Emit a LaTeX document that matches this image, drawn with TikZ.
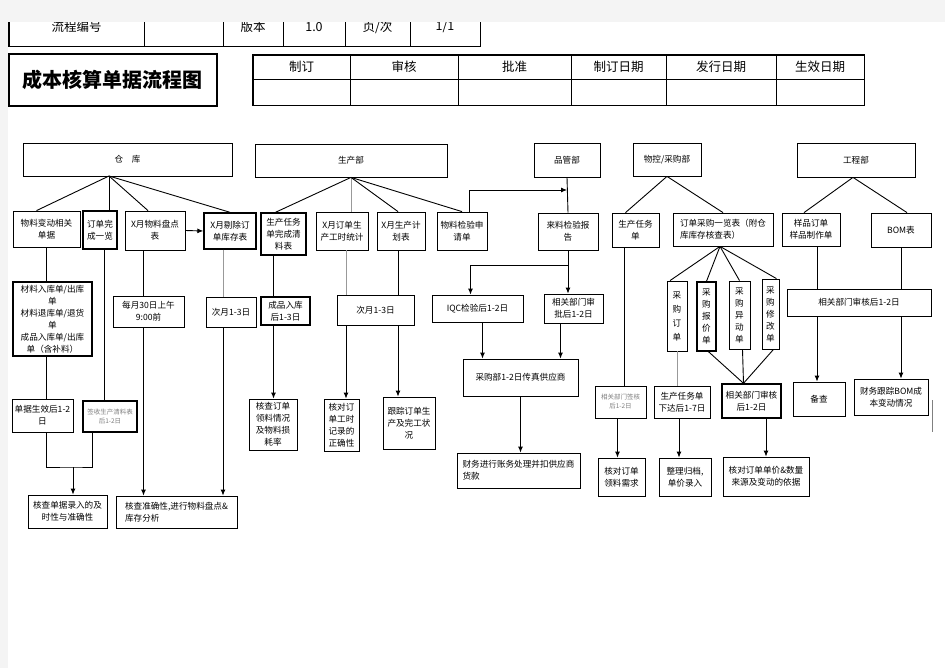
\documentclass[tikz,border=0pt]{standalone}
\usepackage{fontspec}
\setmainfont{Noto Sans CJK SC}
\usetikzlibrary{arrows.meta}
\definecolor{bandgray}{RGB}{244,244,244}

\begin{document}
\begin{tikzpicture}[x=1pt,y=-1pt,
  box/.style={draw,line width=0.8pt,inner sep=1pt,align=center,font=\fontsize{8.6}{12}\selectfont},
  thk/.style={line width=1.4pt},
  cell/.style={draw,line width=0.8pt,inner sep=0pt,font=\fontsize{12.5}{14}\selectfont},
  sm/.style={text=gray,font=\fontsize{6.5}{9}\selectfont},
  ln/.style={line width=0.9pt},
  gl/.style={line width=0.9pt,gray!80},
  arr/.style={line width=0.9pt,-{Latex[length=6pt,width=5pt]}}]
\fill[white] (0,0) rectangle (945,668);
\useasboundingbox (0,0) rectangle (945,668);

\node[cell,minimum width=135,minimum height=38] (t1) at (76.5,27) {流程编号};
\node[cell,minimum width=79,minimum height=38] (t2) at (183.5,27) {};
\node[cell,minimum width=60,minimum height=38] (t3) at (253,27) {版本};
\node[cell,minimum width=62,minimum height=38] (t4) at (314,27) {1.0};
\node[cell,minimum width=65,minimum height=38] (t5) at (377.5,27) {页/次};
\node[cell,minimum width=70,minimum height=38] (t6) at (445,27) {1/1};
\draw[line width=1.6pt] (t1.north west) rectangle (t6.south east);
\fill[bandgray] (0,0) rectangle (945,22);
\fill[bandgray] (0,0) rectangle (8,668);

\node[draw,line width=1.4pt,minimum width=208,minimum height=52,font=\fontsize{20}{22}\selectfont\bfseries] (title) at (113,80) {成本核算单据流程图};

\node[cell,minimum width=97,minimum height=24] (s1) at (301.5,67) {制订};
\node[cell,minimum width=108,minimum height=24] (s2) at (404,67) {审核};
\node[cell,minimum width=113,minimum height=24] (s3) at (514.5,67) {批准};
\node[cell,minimum width=95,minimum height=24] (s4) at (618.5,67) {制订日期};
\node[cell,minimum width=110,minimum height=24] (s5) at (721,67) {发行日期};
\node[cell,minimum width=88,minimum height=24] (s6) at (820,67) {生效日期};
\node[cell,minimum width=97,minimum height=26] (b1) at (301.5,92) {};
\node[cell,minimum width=108,minimum height=26] (b2) at (404,92) {};
\node[cell,minimum width=113,minimum height=26] (b3) at (514.5,92) {};
\node[cell,minimum width=95,minimum height=26] (b4) at (618.5,92) {};
\node[cell,minimum width=110,minimum height=26] (b5) at (721,92) {};
\node[cell,minimum width=88,minimum height=26] (b6) at (820,92) {};
\draw[line width=1.6pt] (s1.north west) rectangle (b6.south east);

\node[box,minimum width=209,minimum height=33] (wh) at (127.5,159.5) {仓\quad 库};
\node[box,minimum width=67,minimum height=36] (wA) at (46.5,229) {物料变动相关\\单据};
\node[box,thk,minimum width=34,minimum height=38] (wB) at (100,230) {订单完\\成一览};
\node[box,minimum width=60,minimum height=39] (wC) at (155,230.5) {X月物料盘点\\表};
\node[box,thk,minimum width=52,minimum height=36] (wD) at (230,231) {X月剔除订\\单库存表};
\node[box,thk,minimum width=79,minimum height=74] (wE) at (52.5,319) {材料入库单/出库\\单\\材料退库单/退货\\单\\成品入库单/出库\\单（含补料）};
\node[box,minimum width=61,minimum height=33] (wF) at (42.5,415.5) {单据生效后1-2\\日};
\node[box,thk,sm,minimum width=54,minimum height=31] (wG) at (110,416.5) {签收生产清料表\\后1-2日};
\node[box,minimum width=79,minimum height=33] (wH) at (67.5,511.5) {核查单据录入的及\\时性与准确性};
\node[box,minimum width=71,minimum height=31] (wI) at (148.5,311.5) {每月30日上午\\9:00前};
\node[box,minimum width=50,minimum height=30] (wJ) at (231,312) {次月1-3日};
\node[box,align=left,minimum width=121,minimum height=32] (wK) at (176.5,512) {核查准确性,进行物料盘点\&\\库存分析};

\coordinate (whf) at (109,176);
\draw[ln] (whf) -- ([xshift=-10pt]wA.north);
\draw[ln] (whf) -- (whf |- wB.north);
\draw[ln] (whf) -- ([xshift=-7pt]wC.north);
\draw[ln] (whf) -- (wD.north);
\draw[arr] (wC.east) -- (wD.west);
\draw[ln] (wA.south) -- (wA.south |- wE.north);
\draw[ln] (wA.south |- wE.south) -- (wA.south |- wF.north);
\draw[ln] ([xshift=4pt]wB.south) -- ([xshift=4pt]wB.south |- wG.north);
\coordinate (wm) at (73,467);
\draw[ln] ([xshift=4pt]wF.south) |- (wm) -| ([xshift=-18pt]wG.south);
\draw[arr] (wm) -- (wm |- wH.north);
\draw[ln] ([xshift=-12pt]wC.south) -- ([xshift=-12pt]wC.south |- wI.north);
\draw[arr] ([xshift=-5pt]wI.south) -- ([xshift=-5pt]wI.south |- wK.north);
\draw[gl] ([xshift=-7pt]wD.south) -- ([xshift=-7pt]wD.south |- wJ.north);
\draw[arr] ([xshift=-8pt]wJ.south) -- ([xshift=-8pt]wJ.south |- wK.north);

\node[box,minimum width=192,minimum height=33] (pd) at (351,160.5) {生产部};
\node[box,thk,minimum width=45,minimum height=42] (pA) at (283.5,234) {生产任务\\单完成清\\料表};
\node[box,minimum width=52,minimum height=38] (pB) at (342,231) {X月订单生\\产工时统计};
\node[box,minimum width=48,minimum height=38] (pC) at (401,231) {X月生产计\\划表};
\node[box,minimum width=50,minimum height=38] (pD) at (462,231) {物料检验申\\请单};
\node[box,thk,minimum width=49,minimum height=28] (pE) at (285.5,311) {成品入库\\后1-3日};
\node[box,minimum width=48,minimum height=51] (pF) at (273,424.5) {核查订单\\领料情况\\及物料损\\耗率};
\node[box,minimum width=77,minimum height=30] (pG) at (375.5,310) {次月1-3日};
\node[box,minimum width=35,minimum height=52] (pH) at (341.5,425) {核对订\\单工时\\记录的\\正确性};
\node[box,minimum width=52,minimum height=52] (pI) at (409,423) {跟踪订单生\\产及完工状\\况};

\draw[ln] (pd.south) -- ([xshift=-8pt]pA.north);
\draw[gl] (pd.south) -- (pd.south |- pB.north);
\draw[ln] (pd.south) -- ([xshift=-3pt]pC.north);
\draw[ln] (pd.south) -- (pD.north);
\draw[ln] ([xshift=-10pt]pA.south) -- ([xshift=-10pt]pA.south |- pE.north);
\draw[arr] ([xshift=-12pt]pE.south) -- ([xshift=-12pt]pE.south |- pF.north);
\draw[gl] ([xshift=4pt]pB.south) -- ([xshift=4pt]pB.south |- pG.north);
\draw[ln] ([xshift=-3pt]pC.south) -- ([xshift=-3pt]pC.south |- pG.north);
\draw[arr] ([xshift=4pt]pB.south |- pG.south) -- ([xshift=4pt]pB.south |- pH.north);
\draw[arr] ([xshift=-11pt]pI.north |- pG.south) -- ([xshift=-11pt]pI.north);

\node[box,minimum width=66,minimum height=34] (qd) at (567,160) {品管部};
\node[box,minimum width=60,minimum height=37] (qB) at (568,231.5) {来料检验报\\告};
\node[box,minimum width=91,minimum height=27] (qC) at (477.5,308.5) {IQC检验后1-2日};
\node[box,minimum width=59,minimum height=29] (qD) at (573.5,308.5) {相关部门审\\批后1-2日};
\node[box,minimum width=115,minimum height=37] (qE) at (520.5,377.5) {采购部1-2日传真供应商};
\node[box,align=left,minimum width=123,minimum height=35] (qF) at (518.5,470.5) {财务进行账务处理并扣供应商\\货款};

\coordinate (qj) at (567,190);
\draw[arr] ([xshift=7pt]pD.north) |- (qj);
\draw[ln] (qd.south) -- (qB.north);
\draw[ln] (qB.south) -- ++(0,15) coordinate (qs);
\draw[arr] (qs) -| ([xshift=-7pt]qC.north);
\draw[arr] (qs) -- (qs |- qD.north);
\draw[arr] ([xshift=5pt]qC.south) -- ([xshift=5pt]qC.south |- qE.north);
\draw[arr] ([xshift=-13pt]qD.south) -- ([xshift=-13pt]qD.south |- qE.north);
\draw[arr] (qE.south) -- (qE.south |- qF.north);

\node[box,minimum width=68,minimum height=33] (md) at (667,159.5) {物控/采购部};
\node[box,minimum width=47,minimum height=34] (mA) at (635.5,230) {生产任务\\单};
\node[box,align=left,minimum width=100,minimum height=33] (mB) at (723,229.5) {订单采购一览表（附仓\\库库存核查表）};
\node[box,minimum width=20,minimum height=70,font=\fontsize{8.6}{14}\selectfont] (mC) at (677,316) {采\\购\\订\\单};
\node[box,thk,minimum width=19,minimum height=69] (mD) at (706.5,316.5) {采\\购\\报\\价\\单};
\node[box,minimum width=21,minimum height=68] (mE) at (739.5,315) {采\\购\\异\\动\\单};
\node[box,minimum width=17,minimum height=70] (mF) at (770.5,314) {采\\购\\修\\改\\单};
\node[box,sm,minimum width=51,minimum height=32] (mG) at (620.5,402) {相关部门签核\\后1-2日};
\node[box,minimum width=56,minimum height=32] (mH) at (682,402) {生产任务单\\下达后1-7日};
\node[box,thk,minimum width=59,minimum height=34] (mI) at (751.5,401) {相关部门审核\\后1-2日};
\node[box,minimum width=47,minimum height=38] (mJ) at (621.5,477) {核对订单\\领料需求};
\node[box,minimum width=52,minimum height=38] (mK) at (685,477) {整理归档,\\单价录入};
\node[box,minimum width=86,minimum height=39] (mL) at (766,476.5) {核对订单单价\&数量\\来源及变动的依据};

\draw[ln] (md.south) -- ([xshift=-10pt]mA.north);
\draw[ln] (md.south) -- (mB.north);
\draw[ln] ([xshift=-3pt]mB.south) -- ([xshift=-7pt]mC.north);
\draw[ln] ([xshift=-3pt]mB.south) -- (mD.north);
\draw[ln] ([xshift=-3pt]mB.south) -- (mE.north);
\draw[ln] ([xshift=-3pt]mB.south) -- ([xshift=6pt]mF.north);
\draw[ln] ([xshift=-11pt]mA.south) -- ([xshift=-11pt]mA.south |- mG.north);
\draw[gl] (mC.south) -- (mC.south |- mH.north);
\draw[ln] ([xshift=2pt]mD.south) -- ([xshift=-8pt]mI.north);
\draw[ln] ([xshift=3pt]mE.south) -- ([xshift=-8pt]mI.north);
\draw[ln] ([xshift=3pt]mF.south) -- ([xshift=-8pt]mI.north);
\draw[arr] ([xshift=-3pt]mG.south) -- ([xshift=-3pt]mG.south |- mJ.north);
\draw[arr] ([xshift=-3pt]mH.south) -- ([xshift=-3pt]mH.south |- mK.north);
\draw[arr] (mL.north |- mI.south) -- (mL.north);

\node[box,minimum width=118,minimum height=34] (ed) at (856,160) {工程部};
\node[box,minimum width=58,minimum height=33] (eA) at (811,229.5) {样品订单\\样品制作单};
\node[box,minimum width=60,minimum height=34] (eB) at (901,230) {BOM表};
\node[box,minimum width=144,minimum height=27] (eC) at (859,302.5) {相关部门审核后1-2日};
\node[box,minimum width=52,minimum height=34] (eD) at (819,399) {备查};
\node[box,minimum width=74,minimum height=36] (eE) at (891,397) {财务跟踪BOM成\\本变动情况};

\draw[ln] ([xshift=-3pt]ed.south) -- ([xshift=-7pt]eA.north);
\draw[ln] ([xshift=-3pt]ed.south) -- ([xshift=6pt]eB.north);
\draw[ln] ([xshift=6pt]eA.south) -- ([xshift=6pt]eA.south |- eC.north);
\draw[ln] (eB.south) -- (eB.south |- eC.north);
\draw[arr] ([xshift=6pt]eA.south |- eC.south) -- ([xshift=6pt]eA.south |- eD.north);
\draw[arr] (eB.south |- eC.south) -- (eB.south |- eE.north);
\draw[gray,line width=0.6pt] (932,400) -- (932,432);
\end{tikzpicture}
\end{document}
